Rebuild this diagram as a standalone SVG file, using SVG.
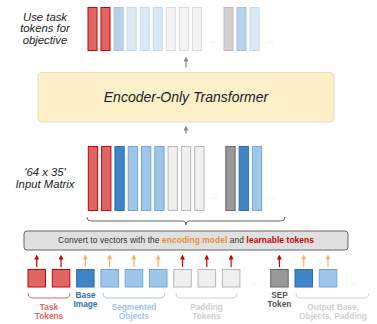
<svg xmlns="http://www.w3.org/2000/svg" width="377" height="324" viewBox="0 0 377 324">
<defs>
<marker id="mg" viewBox="0 0 6 6" refX="3" refY="3" markerWidth="5" markerHeight="5" markerUnits="userSpaceOnUse" orient="auto"><path d="M0,0 L6,3 L0,6 z" fill="#888"/></marker>
<marker id="mr" viewBox="0 0 6 6" refX="3" refY="3" markerWidth="5" markerHeight="5" markerUnits="userSpaceOnUse" orient="auto"><path d="M0,0 L6,3 L0,6 z" fill="#cc0000"/></marker>
<marker id="mo" viewBox="0 0 6 6" refX="3" refY="3" markerWidth="5" markerHeight="5" markerUnits="userSpaceOnUse" orient="auto"><path d="M0,0 L6,3 L0,6 z" fill="#f6b26b"/></marker>
</defs>
<style>
text{font-family:"Liberation Sans",Arial,sans-serif}
.it{font-style:italic;fill:#222;font-size:11.3px;text-anchor:middle}
.red{fill:#e06666;stroke:#cc0000;stroke-width:1}
.blu{fill:#3d85c6;stroke:#2f6fb0;stroke-width:1}
.lbl{fill:#9fc5e8;stroke:#6fa8dc;stroke-width:1}
.gry{fill:#efefef;stroke:#b7b7b7;stroke-width:1}
.dgy{fill:#999999;stroke:#666666;stroke-width:1}
.tblu{fill:#b7d1ea;stroke:#a3c3e3;stroke-width:1}
.tlbl{fill:#dbe8f5;stroke:#c3d9ee;stroke-width:1}
.tgry{fill:#f4f4f4;stroke:#d9d9d9;stroke-width:1}
.tdgy{fill:#d0d0d0;stroke:#bdbdbd;stroke-width:1}
.dots{fill:#bbb;font-size:6px;text-anchor:middle}
.lab{font-size:8.3px;font-weight:bold;text-anchor:middle}
.ar{stroke-width:1.2;fill:none}
.arr{stroke:#cc0000;marker-end:url(#mr)}
.aro{stroke:#f6b26b;marker-end:url(#mo)}
.brace{fill:none;stroke-width:1}
</style>

<g id="objective-label">
<text class="it" x="45" y="20.5">Use task</text>
<text class="it" x="45" y="32">tokens for</text>
<text class="it" x="45" y="43.5">objective</text>
</g>

<g id="output-matrix">
<rect class="red" x="88" y="7.5" width="9" height="43"/>
<rect class="red" x="101" y="7.5" width="9" height="43"/>
<rect class="tblu" x="114.1" y="7.5" width="9" height="43"/>
<rect class="tlbl" x="127.2" y="7.5" width="9" height="43"/>
<rect class="tlbl" x="140.2" y="7.5" width="9" height="43"/>
<rect class="tlbl" x="153.3" y="7.5" width="9" height="43"/>
<rect class="tgry" x="166.3" y="7.5" width="9" height="43"/>
<rect class="tgry" x="179.4" y="7.5" width="9" height="43"/>
<rect class="tgry" x="192.4" y="7.5" width="9" height="43"/>
<text class="dots" x="213" y="43">...</text>
<rect class="tdgy" x="224" y="7.5" width="9" height="43"/>
<rect class="tblu" x="237" y="7.5" width="9" height="43"/>
<rect class="tlbl" x="250.1" y="7.5" width="9" height="43"/>
<text class="dots" x="271" y="43">...</text>
</g>

<g id="transformer">
<rect x="38" y="72.5" width="296" height="49.5" rx="4" fill="#fdf0c9" stroke="#e4dcc6" stroke-width="1"/>
<text x="186" y="102" text-anchor="middle" font-size="14" font-style="italic" fill="#222">Encoder-Only Transformer</text>
</g>

<g id="input-label">
<text class="it" x="45" y="175.5">'64 x 35'</text>
<text class="it" x="45" y="187.5">Input Matrix</text>
</g>

<g id="input-matrix">
<rect class="red" x="88.3" y="146.5" width="9.3" height="64"/>
<rect class="red" x="101.6" y="146.5" width="9.3" height="64"/>
<rect class="blu" x="114.9" y="146.5" width="9.3" height="64"/>
<rect class="lbl" x="128.2" y="146.5" width="9.3" height="64"/>
<rect class="lbl" x="141.5" y="146.5" width="9.3" height="64"/>
<rect class="lbl" x="154.8" y="146.5" width="9.3" height="64"/>
<rect class="gry" x="168.1" y="146.5" width="9.3" height="64"/>
<rect class="gry" x="181.4" y="146.5" width="9.3" height="64"/>
<rect class="gry" x="194.7" y="146.5" width="9.3" height="64"/>
<text class="dots" x="215" y="199">...</text>
<rect class="dgy" x="225.8" y="146.5" width="9.3" height="64"/>
<rect class="blu" x="239.1" y="146.5" width="9.3" height="64"/>
<rect class="lbl" x="252.4" y="146.5" width="9.3" height="64"/>
<text class="dots" x="271.5" y="199">...</text>
<path class="brace" stroke="#666" d="M87,217 Q87,221 91,221 L183,221 Q186,221 186,225 Q186,221 189,221 L281,221 Q285,221 285,217"/>
</g>

<g id="convert">
<rect x="24" y="231" width="324" height="19" rx="3" fill="#e0e0e0" stroke="#666" stroke-width="1"/>
<text x="58" y="243.3" font-size="8.4" fill="#333" textLength="256" lengthAdjust="spacing">Convert to vectors with the <tspan fill="#e69138" font-weight="bold">encoding model</tspan> and <tspan fill="#cc0000" font-weight="bold">learnable tokens</tspan></text>
</g>

<g id="task-tokens">
<rect class="red" x="28" y="269.5" width="17.5" height="17.5"/>
<rect class="red" x="52.3" y="269.5" width="17.5" height="17.5"/>
<path class="brace" stroke="#e06666" d="M28,293 Q28,298 33,298 L65,298 Q70,298 70,293"/>
<text class="lab" x="49" y="309.5" fill="#e06666">Task</text>
<text class="lab" x="49" y="318.5" fill="#e06666">Tokens</text>
</g>

<g id="base-image">
<rect class="blu" x="76.6" y="269.5" width="17.5" height="17.5"/>
<text class="lab" x="85.5" y="298" fill="#2f6fb0">Base</text>
<text class="lab" x="85.5" y="307" fill="#2f6fb0">Image</text>
</g>

<g id="segmented-objects">
<rect class="lbl" x="100.9" y="269.5" width="17.5" height="17.5"/>
<rect class="lbl" x="125.2" y="269.5" width="17.5" height="17.5"/>
<rect class="lbl" x="149.5" y="269.5" width="17.5" height="17.5"/>
<path class="brace" stroke="#9fc5e8" d="M103,293 Q103,298 108,298 L160,298 Q165,298 165,293"/>
<text class="lab" x="134" y="309.5" fill="#9fc5e8">Segmented</text>
<text class="lab" x="134" y="318.5" fill="#9fc5e8">Objects</text>
</g>

<g id="padding-tokens">
<rect class="gry" x="173.8" y="269.5" width="17.5" height="17.5"/>
<rect class="gry" x="198.1" y="269.5" width="17.5" height="17.5"/>
<rect class="gry" x="222.4" y="269.5" width="17.5" height="17.5"/>
<path class="brace" stroke="#d0d0d0" d="M176,293 Q176,298 181,298 L232,298 Q237,298 237,293"/>
<text class="lab" x="206.5" y="309.5" fill="#cfcfcf">Padding</text>
<text class="lab" x="206.5" y="318.5" fill="#cfcfcf">Tokens</text>
<text class="dots" x="255.5" y="285">...</text>
</g>

<g id="sep-token">
<rect class="dgy" x="270.7" y="269.5" width="17.5" height="17.5"/>
<text class="lab" x="279.5" y="298" fill="#555">SEP</text>
<text class="lab" x="279.5" y="307" fill="#555">Token</text>
</g>

<g id="output-tokens">
<rect class="blu" x="295" y="269.5" width="17.5" height="17.5"/>
<rect class="lbl" x="319.3" y="269.5" width="17.5" height="17.5"/>
<text class="dots" x="353" y="285">...</text>
<path class="brace" stroke="#d0d0d0" d="M296,293 Q296,298 301,298 L364,298 Q369,298 369,293"/>
<text class="lab" x="333" y="309.5" fill="#cfcfcf">Output Base,</text>
<text class="lab" x="333" y="318.5" fill="#cfcfcf">Objects, Padding</text>
</g>

<g id="connectors">
<line class="ar" stroke="#888" marker-end="url(#mg)" x1="186" y1="67.5" x2="186" y2="59"/>
<line class="ar" stroke="#888" marker-end="url(#mg)" x1="186" y1="133.5" x2="186" y2="128"/>
<line class="ar arr" x1="36.7" y1="267" x2="36.7" y2="257"/>
<line class="ar arr" x1="61" y1="267" x2="61" y2="257"/>
<line class="ar aro" x1="85.3" y1="267" x2="85.3" y2="257"/>
<line class="ar aro" x1="109.6" y1="267" x2="109.6" y2="257"/>
<line class="ar aro" x1="133.9" y1="267" x2="133.9" y2="257"/>
<line class="ar aro" x1="158.2" y1="267" x2="158.2" y2="257"/>
<line class="ar arr" x1="182.5" y1="267" x2="182.5" y2="257"/>
<line class="ar arr" x1="206.8" y1="267" x2="206.8" y2="257"/>
<line class="ar arr" x1="231.1" y1="267" x2="231.1" y2="257"/>
<line class="ar arr" x1="279.4" y1="267" x2="279.4" y2="257"/>
<line class="ar aro" x1="303.7" y1="267" x2="303.7" y2="257"/>
<line class="ar aro" x1="328" y1="267" x2="328" y2="257"/>
</g>
</svg>
